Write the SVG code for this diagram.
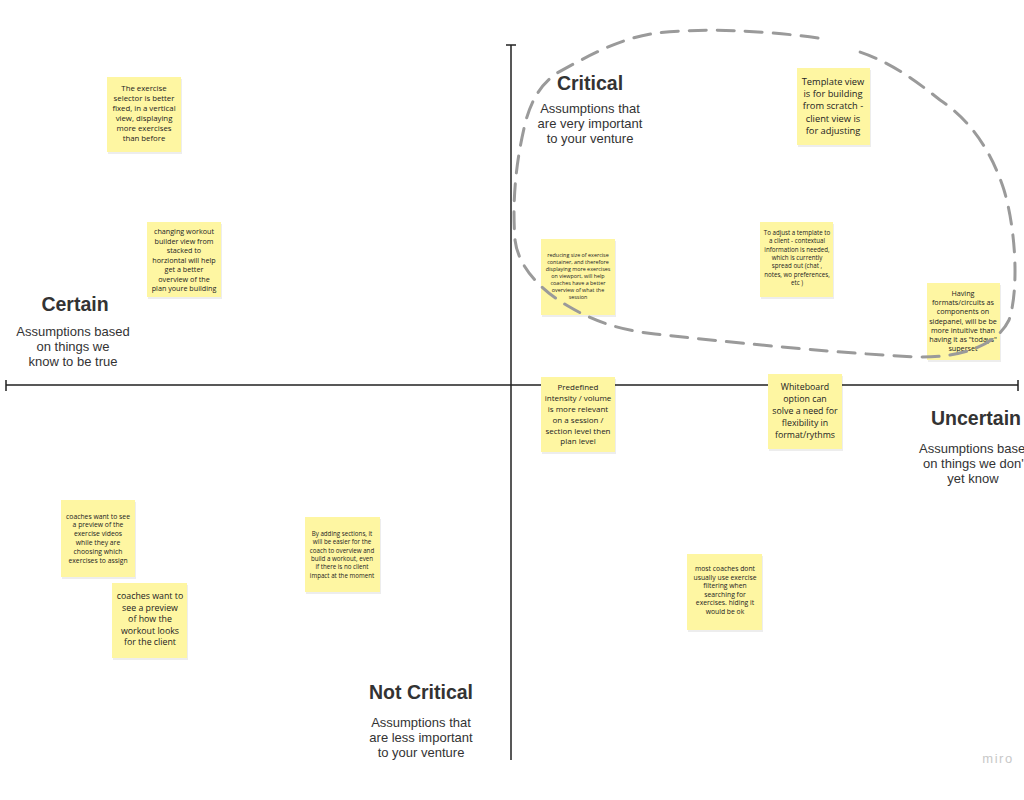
<svg xmlns="http://www.w3.org/2000/svg" width="1024" height="800" viewBox="0 0 1024 800">
<defs>
<style>
.note{fill:#fef6a2;}
.shadow{fill:#000;opacity:0.07;}
.nt{font-family:"Open Sans","Liberation Sans",sans-serif;fill:#222;text-anchor:middle;}
.h{font-family:"Liberation Sans",Arial,sans-serif;font-weight:bold;fill:#333;font-size:19.5px;text-anchor:middle;}
.sub{font-family:"Liberation Sans",Arial,sans-serif;fill:#333;font-size:13px;text-anchor:middle;}
.axis{stroke:#222;stroke-width:1.5;fill:none;}
</style>
</defs>
<rect width="1024" height="800" fill="#ffffff"/>

<g id="axes">
<path class="axis" d="M6,385 H1018 M6,380 V391 M1018,380 V391"/>
<path class="axis" stroke="#444" d="M511,45 V760 M506,45 H516"/>
</g>

<g id="labels">
<text class="h" x="590" y="90">Critical</text>
<text class="sub" x="590" y="113">Assumptions that</text>
<text class="sub" x="590" y="128">are very important</text>
<text class="sub" x="590" y="143">to your venture</text>

<text class="h" x="75" y="311">Certain</text>
<text class="sub" x="73" y="336">Assumptions based</text>
<text class="sub" x="73" y="351">on things we</text>
<text class="sub" x="73" y="366">know to be true</text>

<text class="h" x="976" y="425">Uncertain</text>
<text class="sub" style="text-anchor:start" x="919" y="453">Assumptions base</text>
<text class="sub" style="text-anchor:start" x="923" y="468">on things we don'</text>
<text class="sub" x="973" y="483">yet know</text>

<text class="h" x="421" y="699">Not Critical</text>
<text class="sub" x="421" y="727">Assumptions that</text>
<text class="sub" x="421" y="742">are less important</text>
<text class="sub" x="421" y="757">to your venture</text>

<text x="998" y="763" font-family="'Liberation Sans',Arial,sans-serif" font-size="13" fill="#c8c8c8" text-anchor="middle" letter-spacing="1.5">miro</text>
</g>

<g id="n1">
<rect class="shadow" x="108" y="79" width="74" height="75"/>
<rect class="note" x="107" y="77" width="74" height="75"/>
<text class="nt" font-size="7.8"><tspan x="144" y="91">The exercise</tspan><tspan x="144" y="101">selector is better</tspan><tspan x="144" y="111">fixed, in a vertical</tspan><tspan x="144" y="121">view, displaying</tspan><tspan x="144" y="131">more exercises</tspan><tspan x="144" y="141">than before</tspan></text>
</g>

<g id="n2">
<rect class="shadow" x="148" y="224" width="74" height="75"/>
<rect class="note" x="147" y="222" width="74" height="75"/>
<text class="nt" font-size="7.2"><tspan x="184" y="234">changing workout</tspan><tspan x="184" y="243.5">builder view from</tspan><tspan x="184" y="253">stacked to</tspan><tspan x="184" y="262.5">horziontal will help</tspan><tspan x="184" y="272">get a better</tspan><tspan x="184" y="281.5">overview of the</tspan><tspan x="184" y="291">plan youre building</tspan></text>
</g>

<g id="n3">
<rect class="shadow" x="542" y="241" width="74" height="76"/>
<rect class="note" x="541" y="239" width="74" height="76"/>
<text class="nt" font-size="5.4"><tspan x="578" y="257">reducing size of  exercise</tspan><tspan x="578" y="264">container, and therefore</tspan><tspan x="578" y="271">displaying more exercises</tspan><tspan x="578" y="278">on viewport, will help</tspan><tspan x="578" y="285">coaches have a better</tspan><tspan x="578" y="292">overview of what the</tspan><tspan x="578" y="299">session</tspan></text>
</g>

<g id="n4">
<rect class="shadow" x="761" y="224" width="73" height="75"/>
<rect class="note" x="760" y="222" width="73" height="75"/>
<text class="nt" font-size="6.2"><tspan x="797" y="235">To adjust a template to</tspan><tspan x="797" y="243.3">a client - contextual</tspan><tspan x="797" y="251.6">information is needed,</tspan><tspan x="797" y="259.9">which is currently</tspan><tspan x="797" y="268.2">spread out  (chat ,</tspan><tspan x="797" y="276.5">notes, wo preferences,</tspan><tspan x="797" y="284.8">etc )</tspan></text>
</g>

<g id="n5">
<rect class="shadow" x="798" y="70" width="73" height="77"/>
<rect class="note" x="797" y="68" width="73" height="77"/>
<text class="nt" font-size="9.3"><tspan x="833" y="85">Template view</tspan><tspan x="833" y="97">is for building</tspan><tspan x="833" y="109">from scratch -</tspan><tspan x="833" y="122">client view is</tspan><tspan x="833" y="134">for adjusting</tspan></text>
</g>

<g id="n6">
<rect class="shadow" x="928" y="285" width="73" height="77"/>
<rect class="note" x="927" y="283" width="73" height="77"/>
<text class="nt" font-size="7.2"><tspan x="963" y="296">Having</tspan><tspan x="963" y="305.2">formats/circuits as</tspan><tspan x="963" y="314.4">components on</tspan><tspan x="963" y="323.6">sidepanel, will be be</tspan><tspan x="963" y="332.8">more intuitive than</tspan><tspan x="963" y="342">having it as "todays"</tspan><tspan x="963" y="351.2">superset</tspan></text>
</g>

<g id="n7">
<rect class="shadow" x="542" y="379" width="74" height="75"/>
<rect class="note" x="541" y="377" width="74" height="75"/>
<text class="nt" font-size="8"><tspan x="578" y="390">Predefined</tspan><tspan x="578" y="401">intensity / volume</tspan><tspan x="578" y="412">is more relevant</tspan><tspan x="578" y="422.5">on a session /</tspan><tspan x="578" y="433.5">section level then</tspan><tspan x="578" y="444">plan level</tspan></text>
</g>

<g id="n8">
<rect class="shadow" x="769" y="376" width="74" height="75"/>
<rect class="note" x="768" y="374" width="74" height="75"/>
<text class="nt" font-size="8.8"><tspan x="805" y="390">Whiteboard</tspan><tspan x="805" y="402">option can</tspan><tspan x="805" y="414">solve a need for</tspan><tspan x="805" y="426">flexibility in</tspan><tspan x="805" y="438">format/rythms</tspan></text>
</g>

<g id="n9">
<rect class="shadow" x="62" y="502" width="74" height="77"/>
<rect class="note" x="61" y="500" width="74" height="77"/>
<text class="nt" font-size="6.8"><tspan x="98" y="518.5">coaches want to see</tspan><tspan x="98" y="527.3">a preview of the</tspan><tspan x="98" y="536.1">exercise videos</tspan><tspan x="98" y="544.9">while they are</tspan><tspan x="98" y="553.7">choosing which</tspan><tspan x="98" y="562.5">exercises to assign</tspan></text>
</g>

<g id="n10">
<rect class="shadow" x="113" y="585" width="75" height="75"/>
<rect class="note" x="112" y="583" width="75" height="75"/>
<text class="nt" font-size="8.8"><tspan x="150" y="599">coaches want to</tspan><tspan x="150" y="610.5">see a preview</tspan><tspan x="150" y="622">of how the</tspan><tspan x="150" y="633.5">workout looks</tspan><tspan x="150" y="645">for the client</tspan></text>
</g>

<g id="n11">
<rect class="shadow" x="306" y="519" width="75" height="75"/>
<rect class="note" x="305" y="517" width="75" height="75"/>
<text class="nt" font-size="6.2"><tspan x="342" y="536">By adding sections, it</tspan><tspan x="342" y="544.3">will be easier for the</tspan><tspan x="342" y="552.6">coach to overview and</tspan><tspan x="342" y="560.9">build a workout, even</tspan><tspan x="342" y="569.2">if  there is no client</tspan><tspan x="342" y="577.5">impact at the moment</tspan></text>
</g>

<g id="n12">
<rect class="shadow" x="688" y="556" width="75" height="76"/>
<rect class="note" x="687" y="554" width="75" height="76"/>
<text class="nt" font-size="6.8"><tspan x="725" y="571">most coaches dont</tspan><tspan x="725" y="579.6">usually use exercise</tspan><tspan x="725" y="588.2">filtering when</tspan><tspan x="725" y="596.8">searching for</tspan><tspan x="725" y="605.4">exercises. hiding it</tspan><tspan x="725" y="614">would be ok</tspan></text>
</g>

<g id="connectors">
<path d="M818,38 C760,30 700,28 657,33 C620,38 590,55 557,73 C540,85 532,100 526,120 C516,160 512,200 515,240 C518,266 540,290 568,306 C595,322 620,330 655,334 C720,341 820,352 917,357 C962,358 997,345 1009,320 C1019,290 1016,230 1004,190 C991,150 970,120 940,100 C915,80 890,62 860,52" fill="none" stroke="#9a9a9a" stroke-width="3" stroke-dasharray="17 11" stroke-linecap="round"/>
</g>
</svg>
